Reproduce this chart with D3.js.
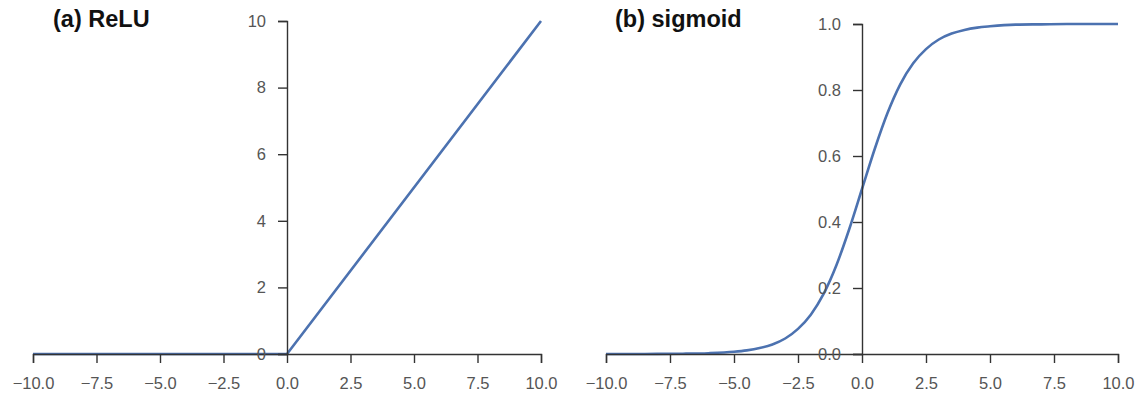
<!DOCTYPE html>
<html>
<head>
<meta charset="utf-8">
<script src="https://cdn.jsdelivr.net/npm/d3@7"></script>
<style>
  body { margin: 0; background: #fff; }
  svg { display: block; font-family: "Liberation Sans", Arial, sans-serif; }
  .axis path, .axis line { stroke: #333; stroke-width: 1.4; }
  .axis text { fill: #555; font-size: 16.5px; font-family: "Liberation Sans", Arial, sans-serif; }
  .title { font-weight: bold; font-size: 23.5px; fill: #111; }
  .curve { fill: none; stroke: #4c72b0; stroke-width: 2.6; }
</style>
</head>
<body>
<div id="chart"></div>
<script>
const xTicks = [-10, -7.5, -5, -2.5, 0, 2.5, 5, 7.5, 10];

// (a) ReLU
const reluX = [-10, 0, 10];
const reluY = [0, 0, 10];
const reluTicks = [0, 2, 4, 6, 8, 10];

// (b) sigmoid
const sigX = [-10, -9, -8, -7, -6, -5, -4.5, -4, -3.5, -3, -2.5, -2, -1.5, -1, -0.5,
  0, 0.5, 1, 1.5, 2, 2.5, 3, 3.5, 4, 4.5, 5, 6, 7, 8, 9, 10];
const sigY = [0.0000, 0.0001, 0.0003, 0.0009, 0.0025, 0.0067, 0.011, 0.018, 0.029, 0.047,
  0.076, 0.119, 0.182, 0.269, 0.378, 0.5, 0.622, 0.731, 0.818, 0.881, 0.924, 0.953,
  0.971, 0.982, 0.989, 0.993, 0.998, 0.999, 1.0, 1.0, 1.0];
const sigTicks = [0, 0.2, 0.4, 0.6, 0.8, 1.0];

const width = 1137;
const height = 393;

const svg = d3.select('#chart')
  .append('svg')
  .attr('width', width)
  .attr('height', height);

const panel = (opts) => {
  const x = d3.scaleLinear()
    .domain([-10, 10])
    .range(opts.xRange);

  const y = d3.scaleLinear()
    .domain(opts.yDomain)
    .range(opts.yRange);

  const data = opts.xs.map((v, i) => ({ x: v, y: opts.ys[i] }));

  const line = d3.line()
    .x(d => x(d.x))
    .y(d => y(d.y))
    .curve(opts.curve);

  svg.append('path')
    .attr('class', 'curve')
    .attr('d', line(data));

  svg.append('g')
    .attr('class', 'axis')
    .attr('transform', `translate(0,${y(0)})`)
    .call(d3.axisBottom(x)
      .tickValues(xTicks)
      .tickFormat(d3.format('.1f'))
      .tickSize(9)
      .tickPadding(14));

  svg.append('g')
    .attr('class', 'axis')
    .attr('transform', `translate(${x(0)},0)`)
    .call(d3.axisLeft(y)
      .tickValues(opts.yTicks)
      .tickFormat(opts.yFormat)
      .tickSize(9)
      .tickPadding(12));

  svg.append('text')
    .attr('class', 'title')
    .attr('x', opts.titleX)
    .attr('y', 27)
    .text(opts.title);
};

panel({
  xRange: [33, 541],
  yDomain: [0, 10],
  yRange: [354, 21],
  xs: reluX,
  ys: reluY,
  yTicks: reluTicks,
  yFormat: d3.format('d'),
  curve: d3.curveLinear,
  title: '(a) ReLU',
  titleX: 53
});

panel({
  xRange: [606, 1118],
  yDomain: [0, 1],
  yRange: [354, 24],
  xs: sigX,
  ys: sigY,
  yTicks: sigTicks,
  yFormat: d3.format('.1f'),
  curve: d3.curveMonotoneX,
  title: '(b) sigmoid',
  titleX: 615
});
</script>
</body>
</html>
